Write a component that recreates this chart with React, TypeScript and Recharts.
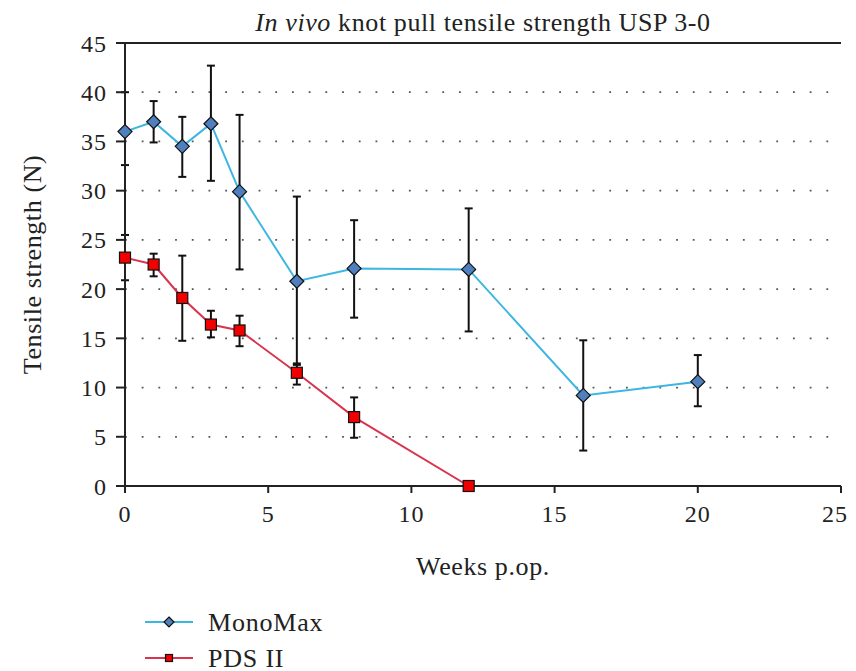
import React from "react";
import {
  ComposedChart,
  Line,
  XAxis,
  YAxis,
  CartesianGrid,
  ErrorBar,
  Legend,
  ReferenceLine,
} from "recharts";

const FONT = "'Liberation Serif', 'DejaVu Serif', serif";
const TEXT = "#222";

const monoWeeks = [0, 1, 2, 3, 4, 6, 8, 12, 16, 20];
const monoMean = [36.0, 37.0, 34.5, 36.8, 29.9, 20.8, 22.1, 22.0, 9.2, 10.6];
const monoLow = [32.6, 34.9, 31.4, 31.0, 22.0, 12.3, 17.1, 15.7, 3.6, 8.1];
const monoHigh = [40.0, 39.1, 37.5, 42.7, 37.7, 29.4, 27.0, 28.2, 14.8, 13.3];

const pdsWeeks = [0, 1, 2, 3, 4, 6, 8, 12];
const pdsMean = [23.2, 22.5, 19.1, 16.4, 15.8, 11.5, 7.0, 0];
const pdsLow = [20.9, 21.3, 14.75, 15.1, 14.2, 10.3, 4.9, 0];
const pdsHigh = [25.5, 23.6, 23.4, 17.8, 17.3, 12.45, 9.0, 0];

const xTicks = [0, 5, 10, 15, 20, 25];
const yTicks = [0, 5, 10, 15, 20, 25, 30, 35, 40, 45];

const MONO_LINE = "#3db6e2";
const MONO_FILL = "#4f7fbd";
const PDS_LINE = "#d9344e";
const PDS_FILL = "#f20000";

const build = (weeks: number[], mean: number[], low: number[], high: number[]) =>
  weeks.map((w, i) => ({
    week: w,
    value: mean[i],
    err: [mean[i] - low[i], high[i] - mean[i]],
  }));

const monoData = build(monoWeeks, monoMean, monoLow, monoHigh);
const pdsData = build(pdsWeeks, pdsMean, pdsLow, pdsHigh);

const Diamond = ({ cx, cy, r = 7 }: { cx: number; cy: number; r?: number }) => (
  <path
    d={`M${cx},${cy - r}L${cx + r},${cy}L${cx},${cy + r}L${cx - r},${cy}Z`}
    fill={MONO_FILL}
    stroke="#111"
    strokeWidth={1.2}
  />
);

const Square = ({ cx, cy, s = 5.5 }: { cx: number; cy: number; s?: number }) => (
  <rect x={cx - s} y={cy - s} width={s * 2} height={s * 2} fill={PDS_FILL} stroke="#111" strokeWidth={1.2} />
);

const renderDiamond = (props: any) => <Diamond key={`d${props.index}`} cx={props.cx} cy={props.cy} />;
const renderSquare = (props: any) => <Square key={`s${props.index}`} cx={props.cx} cy={props.cy} />;

const TitleLabel = (props: any) => {
  const { x, y, width } = props.viewBox;
  return (
    <text
      x={x + width / 2}
      y={y - 12}
      textAnchor="middle"
      fontFamily={FONT}
      fontSize={26}
      letterSpacing={0.6}
      fill={TEXT}
    >
      <tspan fontStyle="italic">In vivo</tspan>
      <tspan> knot pull tensile strength USP 3-0</tspan>
    </text>
  );
};

const YLabel = (props: any) => {
  const { y, height } = props.viewBox;
  const cx = 24;
  const cy = y + height / 2;
  return (
    <text
      x={cx}
      y={cy}
      transform={`rotate(-90 ${cx} ${cy})`}
      textAnchor="middle"
      dominantBaseline="central"
      fontFamily={FONT}
      fontSize={26}
      letterSpacing={0.6}
      fill={TEXT}
    >
      Tensile strength (N)
    </text>
  );
};

const XLabel = (props: any) => {
  const { x, y, width } = props.viewBox;
  return (
    <text
      x={x + width / 2}
      y={y + 89}
      textAnchor="middle"
      fontFamily={FONT}
      fontSize={26}
      letterSpacing={0.6}
      fill={TEXT}
    >
      Weeks p.op.
    </text>
  );
};

const LegendContent = () => (
  <svg width={400} height={70} style={{ display: "block" }}>
    <line x1={137} x2={185} y1={21} y2={21} stroke={MONO_LINE} strokeWidth={2} />
    <Diamond cx={161} cy={21} r={5} />
    <text x={200} y={21} dominantBaseline="central" fontFamily={FONT} fontSize={26} letterSpacing={0.8} fill={TEXT}>
      MonoMax
    </text>
    <line x1={137} x2={185} y1={57} y2={57} stroke={PDS_LINE} strokeWidth={2} />
    <Square cx={161} cy={57} s={3.5} />
    <text x={200} y={57} dominantBaseline="central" fontFamily={FONT} fontSize={26} letterSpacing={0.8} fill={TEXT}>
      PDS II
    </text>
  </svg>
);

const tickStyle = { fontFamily: FONT, fontSize: 24, letterSpacing: 1, fill: TEXT };

export default function App() {
  return (
    <ComposedChart
      width={840}
      height={663}
      margin={{ top: 35, right: 7, bottom: 0, left: 0 }}
      style={{ fontFamily: FONT }}
    >
      <CartesianGrid
        horizontal
        vertical={false}
        stroke="#555"
        strokeWidth={1.8}
        strokeDasharray="1.8 14.9"
      />
      <XAxis
        dataKey="week"
        type="number"
        domain={[0, 25]}
        ticks={xTicks}
        allowDuplicatedCategory={false}
        height={115}
        tickSize={7}
        tickMargin={12}
        tick={tickStyle}
        axisLine={{ stroke: "#222", strokeWidth: 2 }}
        tickLine={{ stroke: "#222", strokeWidth: 2 }}
        label={<XLabel />}
      />
      <YAxis
        type="number"
        domain={[0, 45]}
        ticks={yTicks}
        width={117}
        tickSize={9}
        tickMargin={9}
        tick={tickStyle}
        axisLine={{ stroke: "#222", strokeWidth: 2 }}
        tickLine={{ stroke: "#222", strokeWidth: 2 }}
        label={<YLabel />}
      />
      <ReferenceLine y={45} stroke="#222" strokeWidth={2} label={<TitleLabel />} />
      <Line
        data={monoData}
        dataKey="value"
        name="MonoMax"
        type="linear"
        stroke={MONO_LINE}
        strokeWidth={2}
        dot={renderDiamond}
        activeDot={false}
        isAnimationActive={false}
      >
        <ErrorBar dataKey="err" direction="y" width={4} stroke="#111" strokeWidth={2} isAnimationActive={false} />
      </Line>
      <Line
        data={pdsData}
        dataKey="value"
        name="PDS II"
        type="linear"
        stroke={PDS_LINE}
        strokeWidth={2}
        dot={renderSquare}
        activeDot={false}
        isAnimationActive={false}
      >
        <ErrorBar dataKey="err" direction="y" width={4} stroke="#111" strokeWidth={2} isAnimationActive={false} />
      </Line>
      <Legend verticalAlign="bottom" align="left" height={70} content={<LegendContent />} />
    </ComposedChart>
  );
}
